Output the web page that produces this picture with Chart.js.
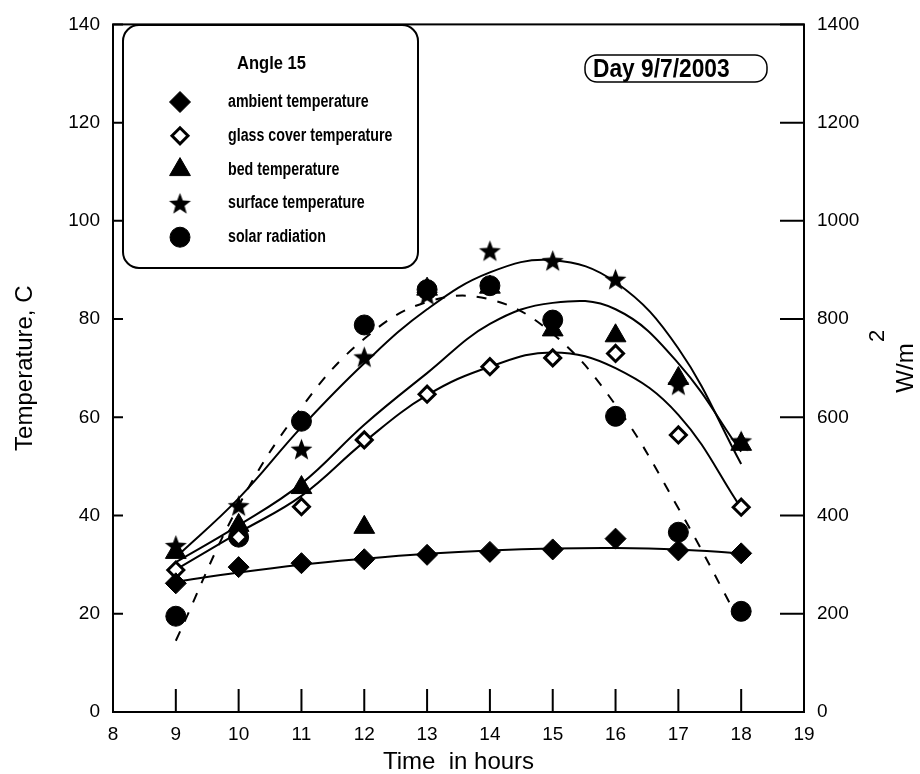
<!DOCTYPE html>
<html>
<head>
<meta charset="utf-8">
<script src="https://cdn.jsdelivr.net/npm/chart.js@4.4.1/dist/chart.umd.min.js"></script>
<style>
  html, body { margin: 0; padding: 0; background: #fff; }
  #wrap { width: 920px; height: 774px; }
</style>
</head>
<body>
<div id="wrap"><canvas id="tempChart" width="920" height="774"></canvas></div>
<script>
// measured values (temperature in C, radiation in W/m2)
const hours = [9, 10, 11, 12, 13, 14, 15, 16, 17, 18];
const ambient = [26.2, 29.5, 30.3, 31.1, 32, 32.6, 33.1, 35.3, 32.9, 32.3];
const glassCover = [28.9, 35.6, 41.8, 55.4, 64.7, 70.3, 72.1, 73, 56.4, 41.7];
const bed = [32.5, 38, 45.7, 37.6, 86.1, 86.5, 77.8, 76.6, 67.9, 54.5];
const surface = [33.9, 42, 53.5, 72.3, 85, 93.9, 91.9, 88.1, 66.6, 55.2];
const solar = [195, 356, 592, 788, 860, 868, 798, 602, 366, 205];

// trend curves at each hour
const ambientFit = [26.5, 28.4, 30, 31.2, 32.2, 32.9, 33.3, 33.4, 33.1, 32.3];
const glassFit = [29, 36.5, 44, 55, 64.5, 70.3, 73.2, 70, 60.5, 41.5];
const bedFit = [30.5, 38, 46.5, 58.5, 69, 79, 83.3, 82, 71, 53];
const surfaceFit = [31.5, 43.5, 58, 71, 82, 89.5, 92, 87.5, 74, 50.5];
const solarFit = [145, 420, 620, 760, 835, 840, 770, 625, 415, 178];

const seriesNames = [
  "ambient temperature",
  "glass cover temperature",
  "bed temperature",
  "surface temperature",
  "solar radiation",
];
const legendTitle = "Angle 15";
const dayLabel = "Day 9/7/2003";

const FONT = "'Liberation Sans', Arial, Helvetica, sans-serif";

function makeStar(r) {
  const c = document.createElement("canvas");
  const s = Math.ceil(r * 2 + 2);
  c.width = s;
  c.height = s;
  const g = c.getContext("2d");
  g.beginPath();
  for (let i = 0; i < 10; i++) {
    const rad = i % 2 ? r * 0.42 : r;
    const a = -Math.PI / 2 + (i * Math.PI) / 5;
    g.lineTo(s / 2 + rad * Math.cos(a), s / 2 + 1 + rad * Math.sin(a));
  }
  g.closePath();
  g.fillStyle = "#000";
  g.fill();
  return c;
}

const markers = [
  { pointStyle: "rectRot", radius: 10.5, fill: "#000", borderWidth: 1 },
  { pointStyle: "rectRot", radius: 8, fill: "#fff", borderWidth: 3 },
  { pointStyle: "triangle", radius: 12, fill: "#000", borderWidth: 1 },
  { pointStyle: makeStar(11.5), radius: 11, fill: "#000", borderWidth: 0 },
  { pointStyle: "circle", radius: 10, fill: "#000", borderWidth: 1 },
];

function toPoints(values) {
  return hours.map((h, i) => ({ x: h, y: values[i] }));
}

function scatterSet(idx, values, axis) {
  const m = markers[idx];
  return {
    label: seriesNames[idx],
    data: toPoints(values),
    yAxisID: axis,
    showLine: false,
    pointStyle: m.pointStyle,
    pointRadius: m.radius,
    pointBackgroundColor: m.fill,
    pointBorderColor: "#000",
    pointBorderWidth: m.borderWidth,
  };
}

function fitSet(values, axis, dash) {
  return {
    label: "fit",
    data: toPoints(values),
    yAxisID: axis,
    showLine: true,
    borderColor: "#000",
    borderWidth: 2,
    borderDash: dash || [],
    pointRadius: 0,
    tension: 0.4,
    fill: false,
  };
}

function roundRect(ctx, x, y, w, h, r) {
  ctx.beginPath();
  ctx.moveTo(x + r, y);
  ctx.arcTo(x + w, y, x + w, y + h, r);
  ctx.arcTo(x + w, y + h, x, y + h, r);
  ctx.arcTo(x, y + h, x, y, r);
  ctx.arcTo(x, y, x + w, y, r);
  ctx.closePath();
}

function narrowText(ctx, text, x, y, font, sx) {
  ctx.save();
  ctx.translate(x, y);
  ctx.scale(sx, 1);
  ctx.font = font;
  ctx.fillText(text, 0, 0);
  ctx.restore();
}

const framePlugin = {
  id: "frame",
  beforeDatasetsDraw(chart) {
    const { ctx, chartArea: a, scales } = chart;
    ctx.save();
    ctx.strokeStyle = "#000";
    ctx.lineWidth = 2;
    ctx.strokeRect(a.left, a.top, a.right - a.left, a.bottom - a.top);
    ctx.beginPath();
    scales.x.ticks.forEach((t) => {
      const px = scales.x.getPixelForValue(t.value);
      ctx.moveTo(px, a.bottom);
      ctx.lineTo(px, a.bottom - 23);
    });
    scales.y.ticks.forEach((t) => {
      const py = scales.y.getPixelForValue(t.value);
      ctx.moveTo(a.left, py);
      ctx.lineTo(a.left + 10, py);
    });
    scales.y2.ticks.forEach((t) => {
      const py = scales.y2.getPixelForValue(t.value);
      ctx.moveTo(a.right, py);
      ctx.lineTo(a.right - 24, py);
    });
    ctx.stroke();
    ctx.restore();
  },
  afterDatasetsDraw(chart) {
    const { ctx } = chart;
    ctx.save();
    ctx.fillStyle = "#000";
    ctx.strokeStyle = "#000";

    // legend box
    ctx.lineWidth = 2;
    roundRect(ctx, 123, 25, 295, 243, 16);
    ctx.fillStyle = "#fff";
    ctx.fill();
    ctx.stroke();
    ctx.fillStyle = "#000";
    ctx.textBaseline = "middle";
    ctx.textAlign = "left";
    narrowText(ctx, legendTitle, 237, 64, "bold 18px " + FONT, 0.92);
    seriesNames.forEach((name, i) => {
      const y = 102 + i * 33.8;
      const m = markers[i];
      ctx.fillStyle = m.fill;
      ctx.strokeStyle = "#000";
      ctx.lineWidth = m.borderWidth;
      Chart.helpers.drawPoint(
        ctx,
        { pointStyle: m.pointStyle, radius: m.radius, rotation: 0, borderWidth: m.borderWidth },
        180,
        y
      );
      ctx.fillStyle = "#000";
      narrowText(ctx, name, 228, y, "bold 18px " + FONT, 0.79);
    });

    // date box
    ctx.lineWidth = 1.5;
    roundRect(ctx, 585, 55, 182, 27, 12);
    ctx.stroke();
    ctx.textBaseline = "alphabetic";
    narrowText(ctx, dayLabel, 593, 77, "bold 25px " + FONT, 0.91);

    // right axis title, rotated upward
    ctx.translate(906, 368);
    ctx.rotate(-Math.PI / 2);
    ctx.textAlign = "center";
    ctx.textBaseline = "middle";
    ctx.font = "24px " + FONT;
    ctx.fillText("W/m", 0, 0);
    ctx.font = "22px " + FONT;
    ctx.fillText("2", 32, -28);
    ctx.restore();
  },
};

const tickFont = { family: FONT, size: 19 };
const plainTick = (v) => String(v);

const cfg = {
  type: "scatter",
  data: {
    datasets: [
      scatterSet(0, ambient, "y"),
      scatterSet(1, glassCover, "y"),
      scatterSet(2, bed, "y"),
      scatterSet(3, surface, "y"),
      scatterSet(4, solar, "y2"),
      fitSet(ambientFit, "y"),
      fitSet(glassFit, "y"),
      fitSet(bedFit, "y"),
      fitSet(surfaceFit, "y"),
      fitSet(solarFit, "y2", [10, 11]),
    ],
  },
  options: {
    responsive: false,
    animation: false,
    events: [],
    layout: { padding: { top: 20, left: 0, right: 0, bottom: 0 } },
    scales: {
      x: {
        type: "linear",
        min: 8,
        max: 19,
        grid: { display: false, drawTicks: false },
        border: { display: false },
        ticks: { stepSize: 1, color: "#000", font: tickFont, padding: 11, callback: plainTick },
        title: {
          display: true,
          text: "Time  in hours",
          color: "#000",
          font: { family: FONT, size: 24, lineHeight: 1 },
          padding: 0,
        },
        afterFit: (s) => { s.height = 62; },
      },
      y: {
        position: "left",
        min: 0,
        max: 140,
        grid: { display: false, drawTicks: false },
        border: { display: false },
        ticks: { stepSize: 20, color: "#000", font: tickFont, padding: 13, callback: plainTick },
        title: {
          display: true,
          text: "Temperature, C",
          color: "#000",
          font: { family: FONT, size: 24, lineHeight: 1 },
          padding: { top: 13, bottom: 0 },
        },
        afterFit: (s) => { s.width = 113; },
      },
      y2: {
        position: "right",
        min: 0,
        max: 1400,
        grid: { display: false, drawTicks: false },
        border: { display: false },
        ticks: { stepSize: 200, color: "#000", font: tickFont, padding: 13, callback: plainTick },
        afterFit: (s) => { s.width = 116; },
      },
    },
    plugins: {
      legend: { display: false },
      tooltip: { enabled: false },
    },
  },
  plugins: [framePlugin],
};

new Chart(document.getElementById("tempChart").getContext("2d"), cfg);
</script>
</body>
</html>
